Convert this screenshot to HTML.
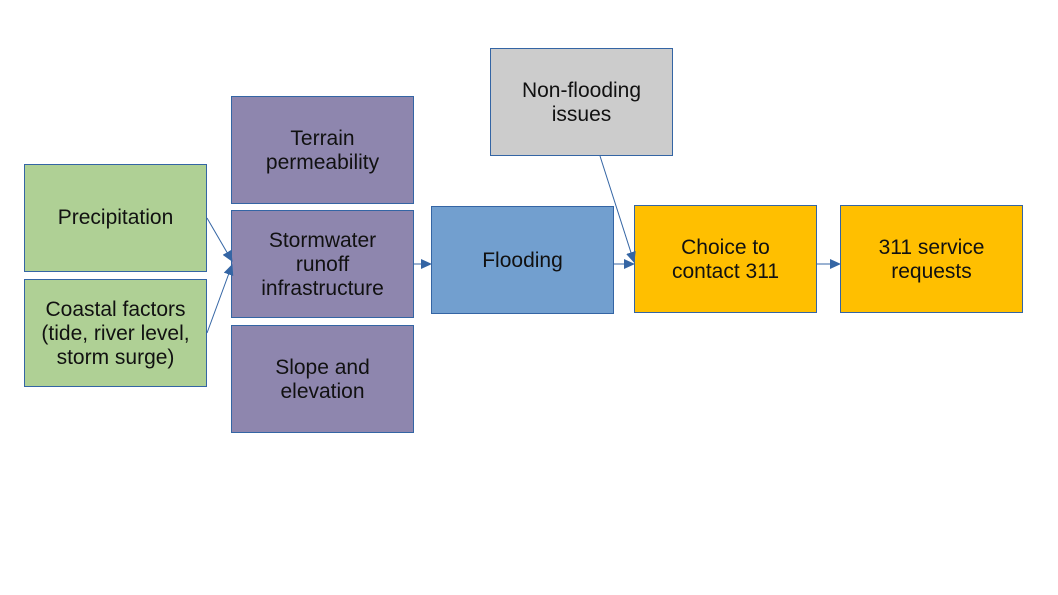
<!DOCTYPE html>
<html><head><meta charset="utf-8"><style>
html,body{margin:0;padding:0;background:#fff;width:1058px;height:595px;overflow:hidden}
.b{position:absolute;box-sizing:border-box;border:1px solid #3465a4;display:flex;align-items:center;justify-content:center;text-align:center;font-family:"Liberation Sans",sans-serif;font-size:21px;line-height:24px;color:#111;padding-top:2px}
.g{background:#afd095}.p{background:#8e86ae}.bl{background:#729fcf}.gr{background:#cccccc}.o{background:#ffbf00}
svg{position:absolute;left:0;top:0}
</style></head><body>
<div class="b g" style="left:24px;top:164px;width:183px;height:108px;padding-top:0">Precipitation</div>
<div class="b g" style="left:24px;top:279px;width:183px;height:108px">Coastal factors<br>(tide, river level,<br>storm surge)</div>
<div class="b p" style="left:231px;top:96px;width:183px;height:108px">Terrain<br>permeability</div>
<div class="b p" style="left:231px;top:210px;width:183px;height:108px">Stormwater<br>runoff<br>infrastructure</div>
<div class="b p" style="left:231px;top:325px;width:183px;height:108px">Slope and<br>elevation</div>
<div class="b bl" style="left:431px;top:206px;width:183px;height:108px">Flooding</div>
<div class="b gr" style="left:490px;top:48px;width:183px;height:108px">Non-flooding<br>issues</div>
<div class="b o" style="left:634px;top:205px;width:183px;height:108px">Choice to<br>contact 311</div>
<div class="b o" style="left:840px;top:205px;width:183px;height:108px">311 service<br>requests</div>
<svg width="1058" height="595">
<defs><marker id="a" markerWidth="11" markerHeight="10" refX="10" refY="5" orient="auto" markerUnits="userSpaceOnUse"><path d="M0,0 L11,5 L0,10z" fill="#3465a4"/></marker></defs>
<g stroke="#3465a4" stroke-width="1" fill="none" marker-end="url(#a)">
<line x1="207" y1="218" x2="232" y2="261"/>
<line x1="207" y1="333" x2="232" y2="265"/>
<line x1="414" y1="264" x2="431" y2="264"/>
<line x1="614" y1="264" x2="634" y2="264"/>
<line x1="600" y1="156" x2="634" y2="262"/>
<line x1="817" y1="264" x2="840" y2="264"/>
</g></svg>
</body></html>
